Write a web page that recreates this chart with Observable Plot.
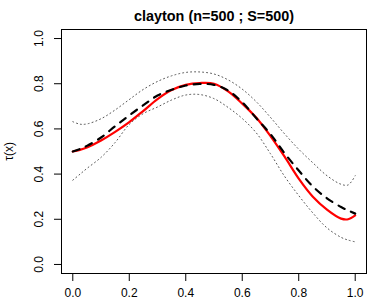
<!DOCTYPE html>
<html>
<head>
<meta charset="utf-8">
<script src="https://cdn.jsdelivr.net/npm/d3@7"></script>
<script src="https://cdn.jsdelivr.net/npm/@observablehq/plot@0.6"></script>
<style>
  html, body { margin: 0; padding: 0; background: #fff; }
  #chart svg { display: block; }
</style>
</head>
<body>
<div id="chart"></div>
<script>
const title = "clayton (n=500 ; S=500)";
const yLabel = "τ(x)";
const xTicks = [0, 0.2, 0.4, 0.6, 0.8, 1.0];
const yTicks = [0, 0.2, 0.4, 0.6, 0.8, 1.0];

// x grid
const xs = [0, 0.025, 0.05, 0.1, 0.15, 0.2, 0.25, 0.3, 0.35, 0.4, 0.45, 0.5, 0.55, 0.6, 0.65, 0.7, 0.75, 0.8, 0.85, 0.9, 0.95, 0.975, 1.0];
// true tau (red)
const trueTau = [0.500, 0.507, 0.518, 0.549, 0.587, 0.630, 0.680, 0.732, 0.772, 0.795, 0.803, 0.800, 0.766, 0.712, 0.649, 0.568, 0.477, 0.380, 0.300, 0.243, 0.203, 0.200, 0.217];
// mean estimate (dashed)
const meanEst = [0.500, 0.511, 0.525, 0.562, 0.612, 0.660, 0.705, 0.748, 0.773, 0.792, 0.799, 0.795, 0.770, 0.718, 0.647, 0.577, 0.492, 0.416, 0.345, 0.293, 0.254, 0.239, 0.225];
// upper band (dotted)
const upper = [0.632, 0.621, 0.622, 0.645, 0.684, 0.730, 0.775, 0.810, 0.835, 0.850, 0.852, 0.843, 0.817, 0.776, 0.720, 0.651, 0.578, 0.510, 0.450, 0.393, 0.355, 0.352, 0.393];
// lower band (dotted)
const lower = [0.373, 0.399, 0.425, 0.474, 0.540, 0.620, 0.668, 0.697, 0.728, 0.750, 0.752, 0.734, 0.695, 0.646, 0.582, 0.490, 0.390, 0.305, 0.228, 0.162, 0.120, 0.108, 0.100];

const font = "'Liberation Sans', Arial, Helvetica, sans-serif";
const idx = xs.map((_, i) => i);

const chart = Plot.plot({
  width: 382,
  height: 304,
  marginLeft: 61,
  marginRight: 16,
  marginTop: 29,
  marginBottom: 31,
  style: { fontFamily: font, fontSize: "12px", color: "black", background: "white" },
  x: { domain: [-0.04, 1.04] },
  y: { domain: [-0.04, 1.04] },
  marks: [
    Plot.axisX({ ticks: xTicks, tickSize: 8, tickPadding: 7, tickFormat: d3.format(".1f"), fontSize: 12, label: null, stroke: "black" }),
    Plot.axisY({ ticks: yTicks, tickSize: 7, tickPadding: 15, tickRotate: -90, textAnchor: "middle", lineAnchor: "middle", tickFormat: d3.format(".1f"), fontSize: 12, label: null, stroke: "black" }),
    Plot.line(idx, { x: i => xs[i], y: i => upper[i], curve: "catmull-rom", stroke: "#555", strokeWidth: 1, strokeDasharray: "1,3" }),
    Plot.line(idx, { x: i => xs[i], y: i => lower[i], curve: "catmull-rom", stroke: "#555", strokeWidth: 1, strokeDasharray: "1,3" }),
    Plot.line(idx, { x: i => xs[i], y: i => trueTau[i], curve: "catmull-rom", stroke: "#ff0000", strokeWidth: 2.2 }),
    Plot.line(idx, { x: i => xs[i], y: i => meanEst[i], curve: "catmull-rom", stroke: "black", strokeWidth: 2.2, strokeDasharray: "7,7" }),
    Plot.frame({ stroke: "black", strokeWidth: 1 }),
    Plot.text([title], { frameAnchor: "top", dy: -13, lineAnchor: "middle", fontSize: 14.4, fontWeight: "bold", fill: "black" }),
    Plot.text([yLabel], { frameAnchor: "left", dx: -52, rotate: -90, lineAnchor: "middle", textAnchor: "middle", fontSize: 12, fill: "black" })
  ]
});
document.getElementById("chart").appendChild(chart);
</script>
</body>
</html>
